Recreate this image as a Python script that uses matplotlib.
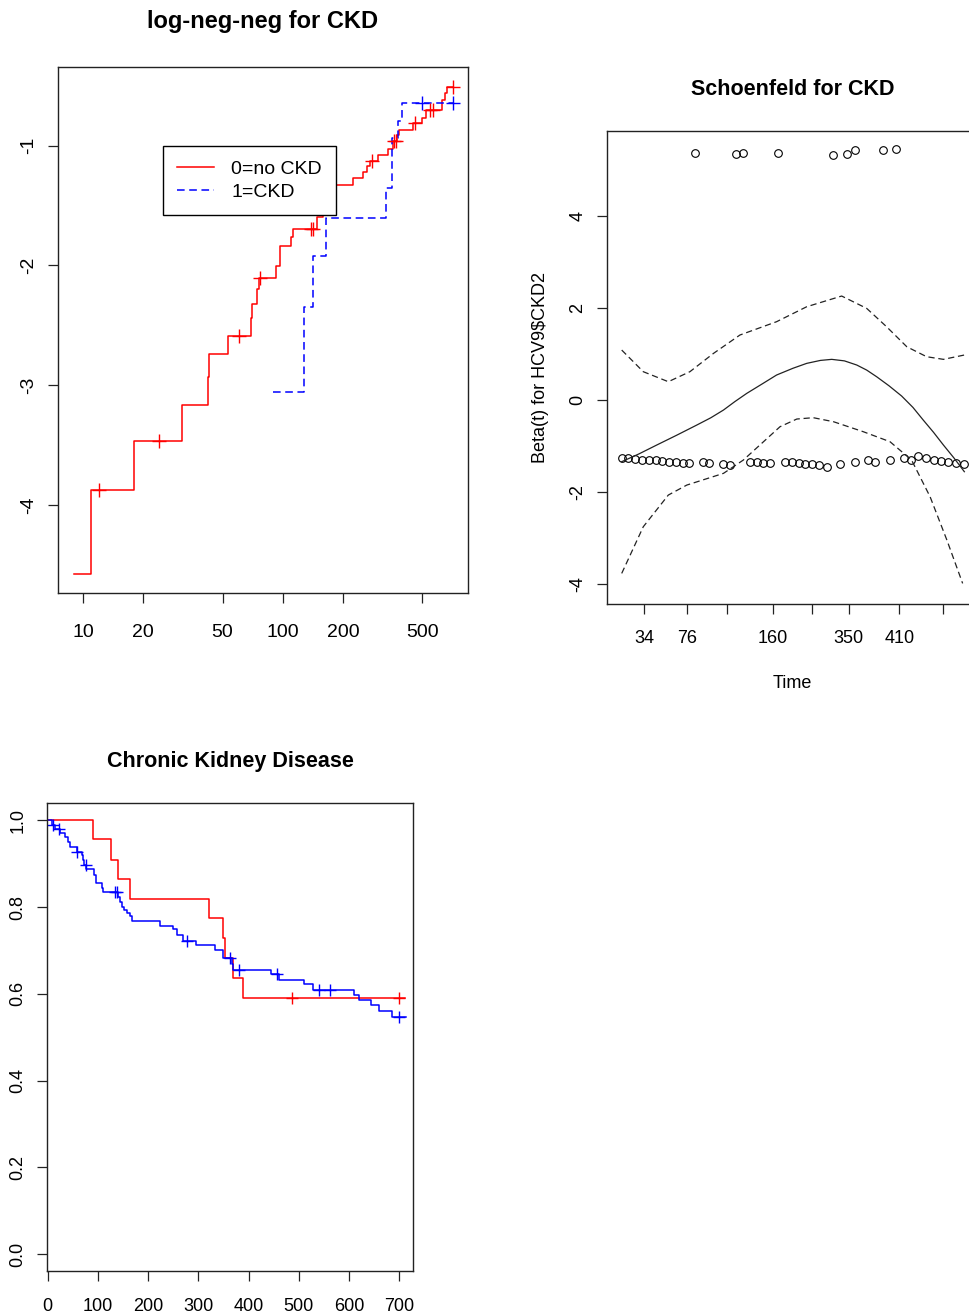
import matplotlib
matplotlib.use("Agg")

import numpy as np
import matplotlib.pyplot as plt
from matplotlib.lines import Line2D

plt.rcParams['font.family'] = ['Liberation Sans', 'DejaVu Sans']
plt.rcParams['axes.unicode_minus'] = False

# --- log(-log(S)) curves, step times and levels ---
cll_red_t = [9, 11, 18, 31.3, 42.3, 43, 53.5, 69.2, 70, 74.1, 76, 92.2, 96.8, 109.7,
             113, 148, 160, 175, 224.6, 252, 264, 275, 301, 338, 356, 372, 384, 451,
             497, 522, 625, 650, 668, 711]
cll_red_y = [-4.578, -3.876, -3.467, -3.166, -2.935, -2.743, -2.590, -2.442, -2.325,
             -2.200, -2.108, -2.005, -1.838, -1.760, -1.693, -1.60, -1.45, -1.328,
             -1.273, -1.217, -1.170, -1.125, -1.078, -1.030, -0.958, -0.911, -0.869,
             -0.813, -0.771, -0.702, -0.618, -0.562, -0.507, -0.507]
cll_red_cens = [12, 24, 60.7, 77, 138.6, 142, 279, 362, 370, 459, 547, 567, 711]

cll_blue_t = [89.3, 128, 142, 165, 329, 351, 380, 395, 711]
cll_blue_y = [-3.060, -2.345, -1.921, -1.607, -1.356, -0.938, -0.794, -0.646, -0.646]
cll_blue_cens = [497, 711]

cll_xticks = [10, 20, 50, 100, 200, 500]
cll_yticks = [-4, -3, -2, -1]
legend_labels = ["0=no CKD", "1=CKD"]

# --- Schoenfeld residuals (transformed time) ---
sch_x_low = [0.000, 0.019, 0.039, 0.058, 0.080, 0.099, 0.119, 0.138, 0.158, 0.178,
             0.197, 0.236, 0.256, 0.295, 0.316, 0.374, 0.394, 0.413, 0.433, 0.477,
             0.496, 0.516, 0.535, 0.554, 0.577, 0.598, 0.637, 0.681, 0.720, 0.739,
             0.783, 0.824, 0.843, 0.866, 0.887, 0.910, 0.931, 0.953, 0.976, 1.000]
sch_y_low = [-1.252, -1.252, -1.273, -1.295, -1.295, -1.295, -1.331, -1.353, -1.353,
             -1.367, -1.367, -1.353, -1.367, -1.389, -1.404, -1.353, -1.353, -1.367,
             -1.367, -1.353, -1.353, -1.367, -1.389, -1.389, -1.418, -1.447, -1.389,
             -1.353, -1.295, -1.353, -1.295, -1.252, -1.295, -1.215, -1.252, -1.295,
             -1.317, -1.353, -1.367, -1.389]
sch_x_high = [0.214, 0.334, 0.355, 0.457, 0.618, 0.657, 0.681, 0.762, 0.801]
sch_y_high = [5.367, 5.345, 5.367, 5.367, 5.324, 5.345, 5.418, 5.418, 5.440]

fit_x = [0.0, 0.050, 0.102, 0.160, 0.219, 0.260, 0.297, 0.330, 0.365, 0.410, 0.452,
         0.500, 0.540, 0.580, 0.613, 0.650, 0.686, 0.715, 0.744, 0.780, 0.817, 0.850,
         0.880, 0.910, 0.939, 0.970, 1.0]
fit_y = [-1.338, -1.170, -0.977, -0.765, -0.543, -0.385, -0.217, -0.035, 0.145, 0.350,
         0.543, 0.690, 0.796, 0.860, 0.883, 0.850, 0.760, 0.650, 0.506, 0.310, 0.087,
         -0.160, -0.434, -0.700, -0.977, -1.260, -1.555]
upper_x = [0.0, 0.063, 0.136, 0.199, 0.268, 0.345, 0.452, 0.540, 0.642, 0.715, 0.773,
           0.832, 0.890, 0.939, 1.0]
upper_y = [1.085, 0.615, 0.398, 0.615, 1.013, 1.411, 1.700, 2.025, 2.257, 1.989, 1.591,
           1.157, 0.940, 0.883, 0.977]
lower_x = [0.0, 0.063, 0.136, 0.190, 0.297, 0.355, 0.462, 0.511, 0.559, 0.618, 0.705,
           0.783, 0.846, 0.900, 0.949, 0.995]
lower_y = [-3.762, -2.749, -2.062, -1.845, -1.591, -1.302, -0.579, -0.412, -0.383,
           -0.470, -0.687, -0.904, -1.302, -2.098, -3.038, -3.979]

sch_xticks = [0.065, 0.190, 0.306, 0.441, 0.555, 0.663, 0.810, 0.939]
sch_xticklabels = ["34", "76", "", "160", "", "350", "410", ""]
sch_yticks = [-4, -2, 0, 2, 4]

# --- Kaplan-Meier curves ---
km_red_t = [0, 89.5, 126, 139, 164, 321, 348, 352, 368, 389.5, 712]
km_red_s = [1.0, 0.957, 0.910, 0.864, 0.818, 0.774, 0.728, 0.682, 0.637, 0.591, 0.591]
km_red_cens = [487, 700]

km_blue_t = [0, 7.9, 14.5, 24.5, 34.4, 41.1, 44.4, 57.7, 67.6, 69.6, 72.9, 76.3, 92.8,
             95.5, 107.4, 110.7, 140.6, 143.9, 147.3, 151.9, 157.2, 163.8, 168.5, 223.6,
             250.1, 257, 270.0, 295.2, 333.1, 349.7, 366.3, 369.6, 443.9, 461.1, 510.9,
             527.5, 609.8, 620.4, 643.6, 660.2, 684.8, 712.7]
km_blue_s = [1.0, 0.990, 0.980, 0.970, 0.961, 0.951, 0.940, 0.928, 0.920, 0.909, 0.897,
             0.887, 0.874, 0.855, 0.845, 0.834, 0.823, 0.813, 0.801, 0.794, 0.787, 0.780,
             0.767, 0.757, 0.749, 0.736, 0.723, 0.713, 0.701, 0.682, 0.669, 0.655, 0.646,
             0.632, 0.623, 0.609, 0.597, 0.587, 0.574, 0.561, 0.5475, 0.5475]
km_blue_cens = [11.2, 22.5, 57.7, 76, 134, 137, 278, 363, 381, 456, 541, 562, 700]

km_xticks = [0, 100, 200, 300, 400, 500, 600, 700]
km_yticks = [0.0, 0.2, 0.4, 0.6, 0.8, 1.0]


def level_at(t_steps, y_steps, tc):
    idx = np.searchsorted(t_steps, tc, side='right') - 1
    return np.asarray(y_steps)[idx]


def estilo_ejes(ax, fs, xpad, ypad):
    for sp in ax.spines.values():
        sp.set_color('#222222')
        sp.set_linewidth(1.0)
    ax.tick_params(direction='out', length=7, width=0.9, labelsize=fs, color='#222222')
    ax.tick_params(axis='x', pad=xpad)
    ax.tick_params(axis='y', labelrotation=90, pad=ypad)
    for lab in ax.get_yticklabels():
        lab.set_va('center')


fig = plt.figure(figsize=(9.7, 13.14), dpi=100)

# --- log-neg-neg ---
ax1 = fig.add_axes([0.0598, 0.5487, 0.4227, 0.4003])
ax1.step(cll_red_t, cll_red_y, where='post', color='red', lw=1.1)
ax1.step(cll_blue_t, cll_blue_y, where='post', color='blue', lw=1.1,
         linestyle=(0, (5, 3)))
ax1.plot(cll_red_cens, level_at(cll_red_t, cll_red_y, cll_red_cens), '+',
         color='red', ms=10, mew=1.0)
ax1.plot(cll_blue_cens, level_at(cll_blue_t, cll_blue_y, cll_blue_cens), '+',
         color='blue', ms=10, mew=1.0)
ax1.set_xscale('log')
ax1.set_xlim(7.5, 847)
ax1.set_ylim(-4.737, -0.343)
ax1.set_xticks(cll_xticks)
ax1.set_xticklabels([str(v) for v in cll_xticks])
ax1.xaxis.set_minor_locator(matplotlib.ticker.NullLocator())
ax1.set_yticks(cll_yticks)
ax1.set_yticklabels([str(v) for v in cll_yticks])
estilo_ejes(ax1, 14, 15, 8)
ax1.set_title("log-neg-neg for CKD", fontsize=17, fontweight='bold', pad=28)
handles = [Line2D([], [], color='red', lw=1.1),
           Line2D([], [], color='blue', lw=1.1, linestyle=(0, (5, 3)))]
leg = ax1.legend(handles, legend_labels, loc='upper left', bbox_to_anchor=(0.256, 0.850),
                 frameon=True, fancybox=False, edgecolor='black', framealpha=1,
                 fontsize=14, handlelength=1.9, handletextpad=0.9, borderpad=0.72,
                 labelspacing=0.28, borderaxespad=0)
leg.get_frame().set_linewidth(1.0)
leg.set_zorder(5)

# --- Schoenfeld ---
ax2 = fig.add_axes([0.6261, 0.5403, 0.3822, 0.3602])
ax2.plot(sch_x_low, sch_y_low, 'o', mfc='none', mec='black', ms=5.5, mew=0.8)
ax2.plot(sch_x_high, sch_y_high, 'o', mfc='none', mec='black', ms=5.5, mew=0.8)
ax2.plot(fit_x, fit_y, color='#222222', lw=0.9)
ax2.plot(upper_x, upper_y, color='#222222', lw=0.9, linestyle=(0, (5, 3)))
ax2.plot(lower_x, lower_y, color='#222222', lw=0.9, linestyle=(0, (5, 3)))
ax2.set_xlim(-0.042, 1.040)
ax2.set_ylim(-4.427, 5.844)
ax2.set_xticks(sch_xticks)
ax2.set_xticklabels(sch_xticklabels)
ax2.set_yticks(sch_yticks)
ax2.set_yticklabels([str(v) for v in sch_yticks])
estilo_ejes(ax2, 13, 12, 8)
ax2.set_xlabel("Time", fontsize=13, labelpad=20)
ax2.set_ylabel("Beta(t) for HCV9$CKD2", fontsize=13, labelpad=15)
ax2.set_title("Schoenfeld for CKD", fontsize=15.5, fontweight='bold', pad=26)

# --- Kaplan-Meier ---
ax3 = fig.add_axes([0.0488, 0.0325, 0.3767, 0.3566])
ax3.step(km_red_t, km_red_s, where='post', color='red', lw=1.1)
ax3.step(km_blue_t, km_blue_s, where='post', color='blue', lw=1.1)
ax3.plot(km_red_cens, level_at(km_red_t, km_red_s, km_red_cens), '+',
         color='red', ms=9, mew=1.0)
ax3.plot(km_blue_cens, level_at(km_blue_t, km_blue_s, km_blue_cens), '+',
         color='blue', ms=9, mew=1.0)
ax3.set_xlim(-0.8, 726.7)
ax3.set_ylim(-0.040, 1.041)
ax3.set_xticks(km_xticks)
ax3.set_xticklabels([str(v) for v in km_xticks])
ax3.set_yticks(km_yticks)
ax3.set_yticklabels([f"{v:.1f}" for v in km_yticks])
estilo_ejes(ax3, 13, 12, 8)
ax3.set_title("Chronic Kidney Disease", fontsize=15.5, fontweight='bold', pad=26)

fig.savefig("out.png", dpi=100)
